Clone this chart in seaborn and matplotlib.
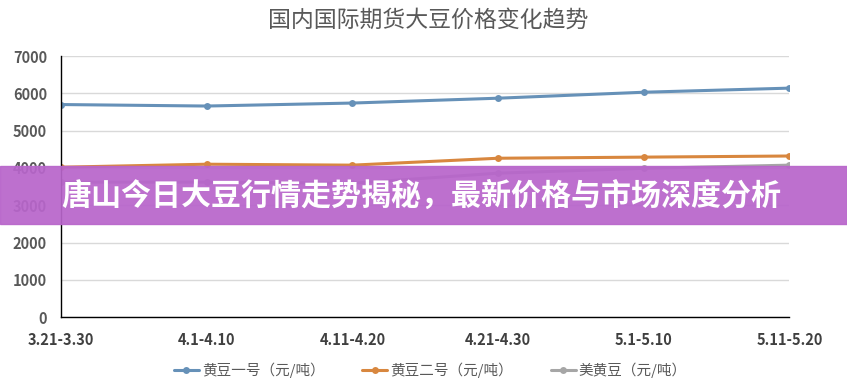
import pandas as pd
import matplotlib.pyplot as plt
import seaborn as sns
from matplotlib.patches import Rectangle
from matplotlib.ticker import MultipleLocator

# 数据
periods = ['3.21-3.30', '4.1-4.10', '4.11-4.20', '4.21-4.30', '5.1-5.10', '5.11-5.20']
soy_1 = [5700, 5660, 5740, 5870, 6030, 6140]
soy_2 = [4020, 4100, 4075, 4260, 4290, 4320]
us_soy = [3620, 3620, 3590, 3860, 3990, 4075]
series_names = ['黄豆一号（元/吨）', '黄豆二号（元/吨）', '美黄豆（元/吨）']
colors = ['#6691b8', '#d8873f', '#a6a6a6']

df = pd.DataFrame({
    'x': list(range(len(periods))) * 3,
    'price': soy_1 + soy_2 + us_soy,
    'series': sum([[n] * len(periods) for n in series_names], []),
})

sns.set_style('white')
plt.rcParams['font.family'] = ['Noto Sans CJK SC', 'DejaVu Sans']

fig = plt.figure(figsize=(8.47, 3.92), dpi=100)
ax = fig.add_axes([0.072, 0.191, 0.86, 0.666])

sns.lineplot(data=df, x='x', y='price', hue='series', palette=colors,
             marker='o', markersize=5, markeredgewidth=0, linewidth=2.2,
             sort=False, ax=ax)

ax.set_xlim(0, len(periods) - 1)
ax.set_ylim(0, 7000)
ax.set_xticks(range(len(periods)))
ax.set_xticklabels(periods, fontsize=10.5, fontweight='bold', color='#404040')
ax.yaxis.set_major_locator(MultipleLocator(1000))
ax.yaxis.set_minor_locator(MultipleLocator(200))
for lbl in ax.get_yticklabels():
    lbl.set_fontweight('bold')
ax.tick_params(axis='y', which='major', direction='in', length=5, width=0.8,
               labelsize=10.5, labelcolor='#595959', pad=10)
ax.tick_params(axis='y', which='minor', direction='in', length=3, width=0.8)
ax.tick_params(axis='x', length=0, pad=11)
ax.grid(axis='y', color='#d9d9d9', linewidth=1)
ax.set_axisbelow(True)
for s in ['top', 'right']:
    ax.spines[s].set_visible(False)
for s in ['left', 'bottom']:
    ax.spines[s].set_color('black')
    ax.spines[s].set_linewidth(1)
ax.set_xlabel('')
ax.set_ylabel('')

leg = ax.legend(loc='center', bbox_to_anchor=(0.507, -0.205), ncol=3,
                frameon=False, fontsize=10.5, handlelength=1.7, handletextpad=0.2,
                columnspacing=2.6)
for t in leg.get_texts():
    t.set_color('#595959')

fig.text(0.505, 0.949, '国内国际期货大豆价格变化趋势', ha='center', va='center',
         fontsize=16.5, color='#595959')

# 紫色横幅
fig.patches.append(Rectangle((0, 1 - 224 / 392), 1, 58 / 392, transform=fig.transFigure,
                             color='#b865cb', alpha=0.93, zorder=10))
fig.text(0.073, 1 - 196 / 392, '唐山今日大豆行情走势揭秘，最新价格与市场深度分析',
         ha='left', va='center', fontsize=21.6, fontweight='bold', color='white', zorder=11)

fig.savefig('out.png', dpi=100)
